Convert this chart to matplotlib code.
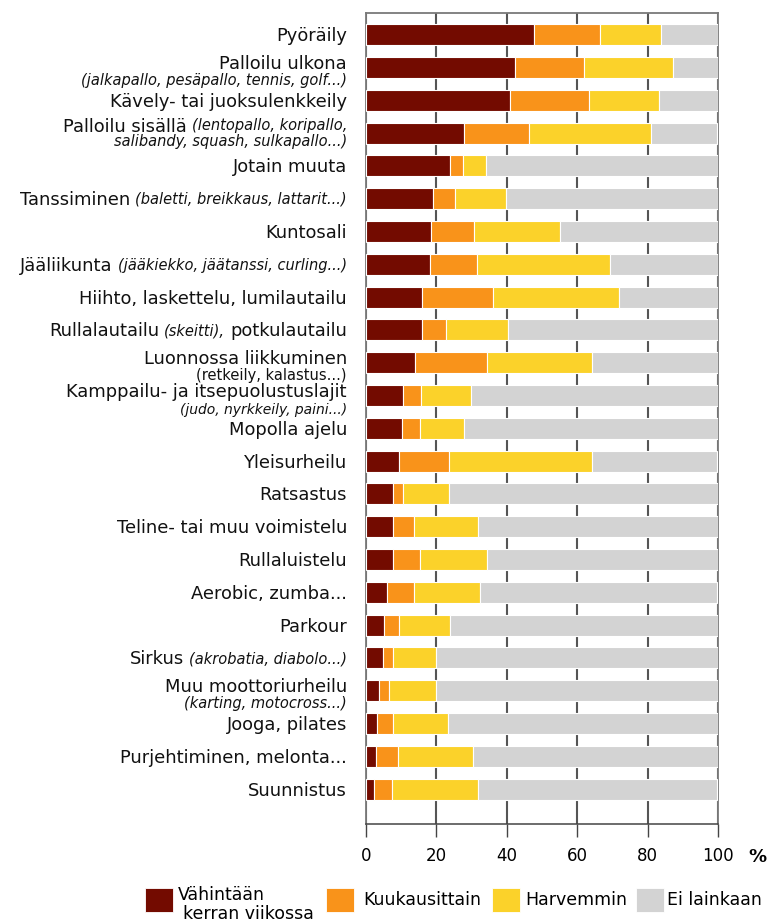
import matplotlib.pyplot as plt
from matplotlib.patches import Rectangle
from matplotlib.transforms import offset_copy, blended_transform_factory

plt.rcParams['font.family'] = ['DejaVu Sans']

# share of respondents (%), rows top to bottom
weekly = [47.7, 42.3, 41.0, 27.7, 24.0, 18.9, 18.6, 18.1, 15.8, 15.8, 14.0, 10.6,
          10.3, 9.5, 7.8, 7.8, 7.8, 6.1, 5.2, 4.9, 3.6, 3.2, 2.8, 2.4]
monthly = [18.7, 19.5, 22.4, 18.7, 3.6, 6.3, 12.0, 13.3, 20.2, 6.9, 20.4, 5.1,
           4.9, 14.1, 2.8, 5.7, 7.4, 7.4, 4.3, 2.9, 3.0, 4.6, 6.2, 4.9]
rarely = [17.4, 25.3, 19.9, 34.5, 6.4, 14.6, 24.5, 37.9, 35.8, 17.5, 29.8, 14.0,
          12.5, 40.6, 13.0, 18.4, 19.2, 18.8, 14.5, 12.1, 13.3, 15.4, 21.3, 24.6]
never = [16.2, 12.9, 16.7, 18.7, 66.0, 60.2, 44.9, 30.7, 28.2, 59.8, 35.8, 70.3,
         72.3, 35.4, 76.4, 68.1, 65.6, 67.3, 76.0, 80.1, 80.1, 76.8, 69.7, 67.7]

# each label: list of lines, each line: list of (text, kind)
labels = [
    [[("Pyöräily", "main")]],
    [[("Palloilu ulkona", "main")], [("(jalkapallo, pesäpallo, tennis, golf...)", "it")]],
    [[("Kävely- tai juoksulenkkeily", "main")]],
    [[("Palloilu sisällä", "main"), ("(lentopallo, koripallo,", "it")],
     [("salibandy, squash, sulkapallo...)", "it")]],
    [[("Jotain muuta", "main")]],
    [[("Tanssiminen", "main"), ("(baletti, breikkaus, lattarit...)", "it")]],
    [[("Kuntosali", "main")]],
    [[("Jääliikunta", "main"), ("(jääkiekko, jäätanssi, curling...)", "it")]],
    [[("Hiihto, laskettelu, lumilautailu", "main")]],
    [[("Rullalautailu", "main"), ("(skeitti),", "it"), ("potkulautailu", "main")]],
    [[("Luonnossa liikkuminen", "main")], [("(retkeily, kalastus...)", "small")]],
    [[("Kamppailu- ja itsepuolustuslajit", "main")], [("(judo, nyrkkeily, paini...)", "it_s")]],
    [[("Mopolla ajelu", "main")]],
    [[("Yleisurheilu", "main")]],
    [[("Ratsastus", "main")]],
    [[("Teline- tai muu voimistelu", "main")]],
    [[("Rullaluistelu", "main")]],
    [[("Aerobic, zumba...", "main")]],
    [[("Parkour", "main")]],
    [[("Sirkus", "main"), ("(akrobatia, diabolo...)", "it")]],
    [[("Muu moottoriurheilu", "main")], [("(karting, motocross...)", "it")]],
    [[("Jooga, pilates", "main")]],
    [[("Purjehtiminen, melonta...", "main")]],
    [[("Suunnistus", "main")]],
]

series_names = ["Vähintään", "Kuukausittain", "Harvemmin", "Ei lainkaan"]
x_ticks = [0, 20, 40, 60, 80, 100]

colors = ["#730b00", "#f9931a", "#fbd22a", "#d3d3d3"]
W, H = 769, 924

fig = plt.figure(figsize=(W / 100, H / 100), dpi=100)
ax = fig.add_axes([366 / W, 1 - 824 / H, (718 - 366) / W, (824 - 13) / H])

n = len(weekly)
ypos = list(range(n))
left = [0] * n
for vals, col in zip([weekly, monthly, rarely, never], colors):
    ax.barh(ypos, vals, left=left, height=0.64, color=col,
            edgecolor="white", linewidth=0.8, zorder=3)
    left = [l + v for l, v in zip(left, vals)]

ax.set_xlim(0, 100)
ax.set_ylim(n - 1 + 1.064, -0.662)
ax.set_xticks(x_ticks)
ax.set_yticks([])
ax.set_axisbelow(True)
ax.grid(axis="x", color="#555555", linewidth=1.5)
ax.tick_params(axis="x", direction="out", length=9.5, width=1.0,
               color="#444444", labelsize=12, pad=7)
for s in ["left", "right", "top"]:
    ax.spines[s].set_color("#7a7a7a")
    ax.spines[s].set_linewidth(1.3)
ax.spines["bottom"].set_color("#444444")
ax.spines["bottom"].set_linewidth(1.1)

fig.text(757 / W, 1 - 857 / H, "%", fontsize=13, fontweight="bold",
         ha="center", va="center")

# category labels, built piece by piece so italic parts can sit on one line
renderer = fig.canvas.get_renderer()
base = blended_transform_factory(ax.transAxes, ax.transData)
styles = {"main": dict(size=12.9), "it": dict(size=10.5, style="italic"),
          "it_s": dict(size=10.0, style="italic"), "small": dict(size=10.5)}
two_line = {3: (-8, 8), 11: (-5, 13.5)}
for i, lines in enumerate(labels):
    offs = [0] if len(lines) == 1 else two_line.get(i, (-5, 12))
    for line, off in zip(lines, offs):
        xr = -19
        for txt, kind in reversed(line):
            st = styles[kind]
            dy = -(off + 0.36 * st["size"] * 100 / 72)
            tr = offset_copy(base, fig=fig, x=xr, y=dy, units="dots")
            t = ax.text(0, i, txt, transform=tr, ha="right", va="baseline",
                        color="#111111", **st)
            xr -= t.get_window_extent(renderer).width + 5

# legend
def px(x, y):
    return x / W, 1 - y / H

sq_x = [145, 326, 492, 636]
txt_x = [178, 363, 525, 667]
for col, x0, tx, name in zip(colors, sq_x, txt_x, series_names):
    fig.add_artist(Rectangle(px(x0, 912), 28 / W, 24 / H, facecolor=col,
                             edgecolor="white", linewidth=0.6,
                             transform=fig.transFigure))
    if name == "Vähintään":
        fig.text(*px(tx, 895), name, fontsize=12.5, ha="left", va="center")
        fig.text(*px(tx + 5, 914), "kerran viikossa", fontsize=12.5,
                 ha="left", va="center")
    else:
        fig.text(*px(tx, 900), name, fontsize=12.5, ha="left", va="center")

fig.savefig("out.png", dpi=100)
